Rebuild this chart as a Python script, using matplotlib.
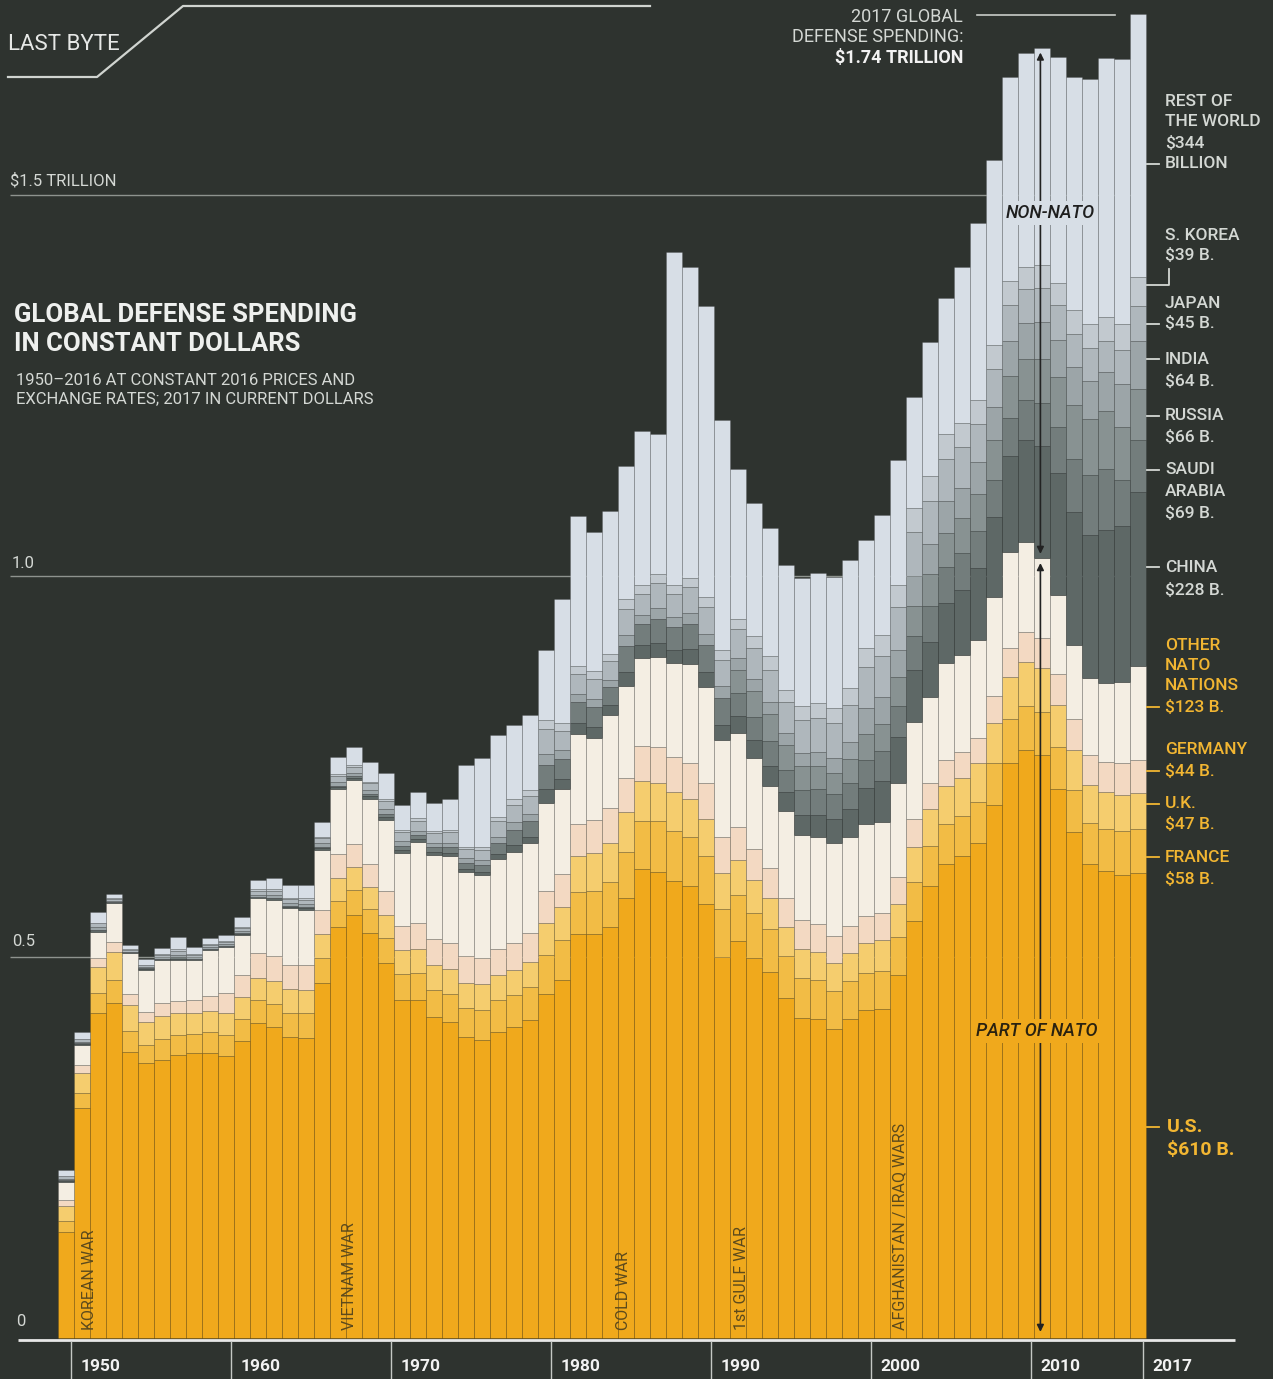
import numpy as np
import matplotlib.pyplot as plt
from matplotlib.lines import Line2D

plt.rcParams['font.family'] = ['Roboto', 'DejaVu Sans']

# data, billions of constant 2016 US dollars (2017 in current dollars)
years = list(range(1950, 2018))

us = [139, 302, 427, 440, 375, 361, 365, 371, 374, 374,
      370, 390, 413, 408, 395, 394, 466, 539, 555, 531,
      492, 444, 444, 421, 415, 395, 391, 402, 408, 417,
      452, 470, 530, 530, 540, 577, 615, 612, 600, 593,
      569, 500, 521, 499, 480, 446, 420, 418, 405, 418,
      430, 432, 476, 547, 593, 622, 632, 650, 700, 755,
      772, 765, 720, 664, 622, 613, 608, 610]
france = [14, 20, 26, 30, 28, 24, 28, 27, 25, 27,
          28, 29, 30, 30, 32, 32, 33, 34, 33, 32,
          33, 34, 35, 36, 36, 38, 40, 41, 42, 43,
          50, 52, 55, 57, 59, 61, 64, 66, 66, 65,
          64, 63, 61, 59, 57, 55, 53, 52, 50, 50,
          49, 49, 50, 52, 53, 53, 53, 53, 54, 57,
          57, 56, 55, 55, 54, 55, 57, 58]
uk = [20, 26, 34, 36, 34, 30, 30, 28, 27, 28,
      29, 29, 30, 30, 31, 31, 31, 31, 30, 29,
      30, 31, 32, 32, 33, 33, 33, 33, 33, 34,
      42, 44, 47, 49, 51, 52, 52, 50, 50, 49,
      48, 47, 45, 43, 41, 39, 38, 37, 37, 37,
      39, 41, 43, 46, 48, 49, 50, 51, 53, 56,
      58, 58, 56, 53, 50, 48, 47, 47]
germany = [8, 10, 12, 14, 14, 13, 16, 16, 18, 20,
           26, 28, 32, 33, 32, 32, 32, 31, 30, 30,
           31, 32, 33, 34, 34, 35, 35, 35, 36, 37,
           42, 43, 43, 44, 45, 45, 46, 47, 47, 47,
           48, 47, 44, 41, 39, 38, 37, 36, 36, 36,
           36, 36, 36, 36, 35, 35, 34, 34, 36, 38,
           39, 39, 40, 40, 39, 40, 42, 44]
other_nato = [24, 27, 34, 51, 54, 55, 57, 54, 52, 60,
              60, 53, 72, 74, 74, 73, 79, 86, 84, 86,
              94, 96, 107, 111, 114, 111, 109, 117, 119, 118,
              116, 111, 117, 108, 123, 120, 116, 119, 123, 131,
              125, 128, 123, 119, 108, 113, 112, 115, 122, 117,
              121, 119, 123, 128, 112, 127, 127, 128, 130, 126,
              118, 105, 104, 97, 101, 104, 107, 123]
china = [1, 1, 2, 1, 1, 1, 1, 2, 1, 1,
         1, 1, 1, 2, 2, 2, 2, 2, 3, 3,
         4, 4, 4, 4, 4, 4, 4, 7, 9, 9,
         18, 14, 15, 14, 13, 19, 16, 18, 17, 19,
         20, 20, 22, 24, 26, 25, 27, 29, 31, 36,
         47, 54, 61, 68, 73, 79, 86, 95, 104, 125,
         135, 148, 160, 175, 188, 200, 205, 228]
saudi = [1, 1, 1, 0, 0, 1, 1, 2, 1, 1,
         1, 1, 1, 1, 1, 1, 2, 2, 2, 3,
         4, 5, 5, 6, 8, 8, 9, 15, 20, 20,
         32, 26, 27, 26, 23, 34, 28, 32, 30, 33,
         35, 35, 30, 30, 32, 30, 32, 34, 33, 34,
         37, 39, 40, 44, 46, 47, 48, 48, 49, 50,
         52, 56, 60, 70, 78, 80, 60, 69]
russia = [0, 0, 0, 0, 0, 0, 0, 0, 0, 0,
          0, 0, 0, 0, 0, 0, 0, 0, 0, 0,
          0, 0, 0, 0, 0, 0, 0, 0, 0, 0,
          0, 0, 0, 0, 0, 0, 0, 0, 0, 0,
          0, 0, 30, 34, 36, 32, 32, 30, 28, 32,
          34, 36, 38, 40, 42, 44, 46, 48, 52, 55,
          54, 58, 66, 70, 74, 76, 70, 66]
india = [2, 2, 3, 2, 1, 2, 2, 3, 2, 2,
         2, 3, 3, 4, 4, 4, 4, 5, 5, 5,
         6, 6, 6, 6, 6, 6, 6, 8, 10, 10,
         14, 11, 11, 11, 10, 14, 12, 14, 13, 14,
         15, 15, 16, 16, 16, 16, 17, 18, 19, 22,
         34, 35, 36, 39, 40, 42, 40, 42, 44, 47,
         47, 48, 49, 50, 50, 52, 56, 64]
japan = [3, 3, 5, 2, 2, 2, 3, 5, 3, 3,
         3, 4, 5, 5, 5, 6, 7, 8, 8, 9,
         11, 12, 13, 13, 14, 12, 13, 20, 23, 23,
         33, 26, 27, 26, 24, 35, 28, 33, 31, 34,
         35, 35, 38, 40, 42, 40, 43, 44, 46, 49,
         53, 54, 56, 58, 57, 56, 53, 50, 49, 47,
         44, 45, 45, 44, 43, 40, 44, 45]
skorea = [0, 1, 1, 1, 1, 1, 1, 2, 1, 1,
          1, 2, 2, 2, 2, 2, 2, 2, 2, 2,
          3, 3, 3, 3, 3, 3, 4, 6, 8, 8,
          12, 10, 10, 10, 9, 13, 11, 12, 11, 12,
          13, 13, 14, 16, 18, 17, 19, 20, 20, 22,
          25, 27, 29, 31, 32, 32, 32, 32, 32, 31,
          30, 30, 30, 31, 32, 32, 35, 39]
rest_of_world = [8, 9, 14, 6, 6, 7, 8, 16, 9, 8,
                 8, 12, 12, 15, 16, 17, 19, 22, 24, 26,
                 33, 33, 35, 36, 40, 107, 117, 107, 96, 99,
                 92, 163, 197, 183, 188, 174, 202, 183, 437, 408,
                 382, 302, 196, 175, 168, 163, 167, 171, 172, 168,
                 142, 158, 164, 146, 176, 179, 205, 232, 243, 268,
                 280, 285, 296, 306, 321, 340, 347, 344]

gridlines = [500, 1000, 1500]
tick_years = [1950, 1960, 1970, 1980, 1990, 2000, 2010, 2017]
events = ['KOREAN WAR', 'VIETNAM WAR', 'COLD WAR', '1st GULF WAR',
          'AFGHANISTAN / IRAQ WARS']

BG = '#2E332F'
layers = [
    (us, '#F0A91C'), (france, '#F2BC45'), (uk, '#F5CD6E'),
    (germany, '#F3D9C2'), (other_nato, '#F4EEE3'),
    (china, '#5E6866'), (saudi, '#737D7C'), (russia, '#889292'),
    (india, '#9CA5A8'), (japan, '#AFB7BC'), (skorea, '#C2C9CF'),
    (rest_of_world, '#D7DEE6'),
]

W, H = 1273, 1379
fig = plt.figure(figsize=(W / 100, H / 100), dpi=100, facecolor=BG)
ax = fig.add_axes([0, 0, 1, 1])
ax.set_facecolor(BG)
ax.axis('off')

# 16 px per year, 1950 starts at x=58; 762 px per trillion, zero at y=1338
ax.set_xlim(1950 - 58 / 16, 1950 + (W - 58) / 16)
ax.set_ylim(-(H - 1338) / 0.762, 1338 / 0.762)


def fx(p):
    return p / W


def fy(p):
    return 1 - p / H


def xdata(p):
    return 1950 + (p - 58) / 16


def txt(x, y, s, **kw):
    kw.setdefault('va', 'center')
    kw.setdefault('color', '#d4d8d4')
    fig.text(fx(x), fy(y), s, **kw)


ax.hlines(gridlines, xdata(10), years[-1] + 0.5, color='#8e938e', lw=1.0, zorder=0)

bottom = np.zeros(len(years))
for vals, col in layers:
    ax.bar(years, vals, width=1, bottom=bottom, align='edge', color=col,
           edgecolor=(0, 0, 0, 0.13), linewidth=0.7, zorder=2)
    bottom += np.array(vals)

# baseline and year ticks
ax.hlines(-3, xdata(18), xdata(1235), color='#e8e8e8', lw=2, zorder=3)
ax.vlines([y + 0.8 for y in tick_years], -60, -4, color='#c4c8c4', lw=1, zorder=3)
for y in tick_years:
    ax.text(y + 0.8 + 10 / 16, -38, str(y), color='#f2f2f2', fontsize=12.5,
            fontweight='bold', va='center', ha='left')

# arrows on the 2011 bar
i = years.index(2011)
nato_top = sum(l[0][i] for l in layers[:5])
total = bottom[i]
xa = 2011.4
ax.annotate('', xy=(xa, total - 6), xytext=(xa, nato_top + 6),
            arrowprops=dict(arrowstyle='<|-|>', color='#222222', lw=1.2,
                            mutation_scale=10, shrinkA=0, shrinkB=0), zorder=5)
ax.annotate('', xy=(xa, nato_top - 6), xytext=(xa, 8),
            arrowprops=dict(arrowstyle='<|-|>', color='#222222', lw=1.2,
                            mutation_scale=10, shrinkA=0, shrinkB=0), zorder=5)
txt(1050, 213, 'NON-NATO', ha='center', fontsize=13, style='italic', color='#1e1e1e',
    fontweight='medium', bbox=dict(facecolor='#D7DEE6', edgecolor='none', pad=2), zorder=6)
txt(1037, 1031, 'PART OF NATO', ha='center', fontsize=13, style='italic', color='#2a2210',
    fontweight='medium', bbox=dict(facecolor='#F0A91C', edgecolor='none', pad=2), zorder=6)

# war labels
for s, x in zip(events, [90, 350, 623, 741, 900]):
    txt(x, 1330, s, rotation=90, ha='center', va='bottom', fontsize=11.5, color='#5c4a1c')

# header
fig.add_artist(Line2D([fx(8), fx(97), fx(183), fx(650)], [fy(77), fy(77), fy(6), fy(6)],
                      color='#d0d4d0', lw=1.6))
txt(8, 45, 'LAST BYTE', fontsize=16, color='#e6e8e6')

txt(10, 181, '$1.5 TRILLION', fontsize=12)
txt(12, 563, '1.0', fontsize=12)
txt(12, 942, '0.5', fontsize=12)
txt(16, 1322, '0', fontsize=12)

txt(14, 315, 'GLOBAL DEFENSE SPENDING', fontsize=18.5, fontweight='bold', color='#eef0ee')
txt(14, 344, 'IN CONSTANT DOLLARS', fontsize=18.5, fontweight='bold', color='#eef0ee')
txt(16, 380, '1950–2016 AT CONSTANT 2016 PRICES AND', fontsize=12)
txt(16, 399, 'EXCHANGE RATES; 2017 IN CURRENT DOLLARS', fontsize=12)

txt(963, 17, '2017 GLOBAL', ha='right', fontsize=13)
txt(963, 37, 'DEFENSE SPENDING:', ha='right', fontsize=13)
txt(963, 58, '$1.74 TRILLION', ha='right', fontsize=13, fontweight='bold', color='#f2f2f2')
fig.add_artist(Line2D([fx(977), fx(1115)], [fy(15), fy(15)], color='#c8ccc8', lw=1.2))

# right-hand labels
GREY, GOLD = '#d4d8d4', '#F2B632'
right_labels = [
    (102, 'REST OF', GREY, False), (122, 'THE WORLD', GREY, False), (143, '$344', GREY, False),
    (164, 'BILLION', GREY, True),
    (235, 'S. KOREA', GREY, False), (255, '$39 B.', GREY, False),
    (303, 'JAPAN', GREY, False), (324, '$45 B.', GREY, True),
    (359, 'INDIA', GREY, True), (381, '$64 B.', GREY, False),
    (416, 'RUSSIA', GREY, True), (438, '$66 B.', GREY, False),
    (470, 'SAUDI', GREY, True), (491, 'ARABIA', GREY, False), (513, '$69 B.', GREY, False),
    (567, 'CHINA', GREY, True), (590, '$228 B.', GREY, False),
    (645, 'OTHER', GOLD, False), (665, 'NATO', GOLD, False), (685, 'NATIONS', GOLD, False),
    (707, '$123 B.', GOLD, True),
    (750, 'GERMANY', GOLD, False), (771, '$44 B.', GOLD, True),
    (804, 'U.K.', GOLD, True), (825, '$47 B.', GOLD, False),
    (857, 'FRANCE', GOLD, True), (879, '$58 B.', GOLD, False),
]
for y, s, col, tick in right_labels:
    txt(1165, y, s, fontsize=12.5, color=col, fontweight='medium')
    if tick:
        fig.add_artist(Line2D([fx(1147), fx(1159)], [fy(y), fy(y)], color=col, lw=1.3))
txt(1167, 1127, 'U.S.', fontsize=14, fontweight='bold', color=GOLD)
txt(1167, 1150, '$610 B.', fontsize=14, fontweight='bold', color=GOLD)
fig.add_artist(Line2D([fx(1147), fx(1159)], [fy(1127), fy(1127)], color=GOLD, lw=1.3))
fig.add_artist(Line2D([fx(1147), fx(1169), fx(1169)], [fy(285), fy(285), fy(269)],
                      color=GREY, lw=1.3))

fig.savefig('out.png', dpi=100, facecolor=BG)
